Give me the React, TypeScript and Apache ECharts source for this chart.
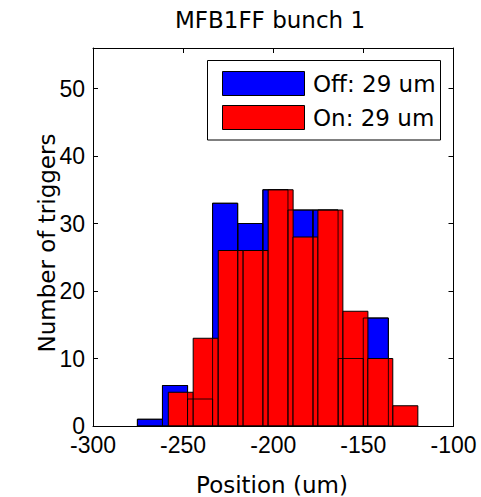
import React, { useEffect, useRef } from "react";
import * as echarts from "echarts";

const TITLE = "MFB1FF bunch 1";
const X_NAME = "Position (um)";
const Y_NAME = "Number of triggers";
const LEGEND_OFF = "Off: 29 um";
const LEGEND_ON = "On: 29 um";

// Off (blue) histogram: bin centers and counts
const OFF_WIDTH = 13.93;
const offCenters = [-268.4, -254.5, -240.6, -226.7, -212.7, -198.8, -184.9, -171.0, -157.0, -143.1];
const offCounts = [1, 6, 4, 33, 30, 35, 32, 32, 10, 16];

// On (red) histogram: bin centers and counts
const ON_WIDTH = 13.84;
const onCenters = [-251.3, -237.5, -223.6, -209.8, -195.9, -182.1, -168.3, -154.4, -140.6, -126.7];
const onCounts = [5, 13, 26, 26, 35, 28, 32, 17, 10, 3];

const X_MIN = -300;
const X_MAX = -100;
const X_INTERVAL = 50;
const Y_MIN = 0;
const Y_MAX = 56;
const Y_INTERVAL = 10;

const TEXT_FONT = "DejaVu Sans";
const TICK_FONT = "Liberation Sans";

function makeRender(width: number, fill: string, stroke: string) {
  return (params: any, api: any) => {
    const c = api.value(0);
    const h = api.value(1);
    const p0 = api.coord([c - width / 2, h]);
    const p1 = api.coord([c + width / 2, 0]);
    return {
      type: "rect",
      shape: { x: p0[0], y: p0[1], width: p1[0] - p0[0], height: p1[1] - p0[1] },
      style: { fill, stroke, lineWidth: 1 },
    };
  };
}

export default function App() {
  const ref = useRef<HTMLDivElement>(null);
  useEffect(() => {
    if (!ref.current) return;
    const chart = echarts.init(ref.current, undefined, { renderer: "svg" });
    const offData = offCenters.map((c, i) => [c, offCounts[i]]);
    const onData = onCenters.map((c, i) => [c, onCounts[i]]);
    const grid = { left: 93, top: 48, width: 360.5, height: 378 };
    chart.setOption({
      animation: false,
      backgroundColor: "#ffffff",
      grid,
      xAxis: [
        {
          type: "value",
          min: X_MIN,
          max: X_MAX,
          interval: X_INTERVAL,
          position: "bottom",
          axisLine: { show: true, onZero: false, lineStyle: { color: "#000", width: 1 } },
          axisTick: { show: true, inside: true, length: 5, lineStyle: { color: "#000" } },
          axisLabel: { color: "#000", fontFamily: TICK_FONT, fontSize: 23, lineHeight: 17, margin: 10 },
          splitLine: { show: false },
        },
        {
          type: "value",
          min: X_MIN,
          max: X_MAX,
          interval: X_INTERVAL,
          position: "top",
          axisLine: { show: true, onZero: false, lineStyle: { color: "#000", width: 1 } },
          axisTick: { show: true, inside: true, length: 5, lineStyle: { color: "#000" } },
          axisLabel: { show: false },
          splitLine: { show: false },
        },
      ],
      yAxis: [
        {
          type: "value",
          min: Y_MIN,
          max: Y_MAX,
          interval: Y_INTERVAL,
          position: "left",
          axisLine: { show: true, onZero: false, lineStyle: { color: "#000", width: 1 } },
          axisTick: { show: true, inside: true, length: 5, lineStyle: { color: "#000" } },
          axisLabel: { color: "#000", fontFamily: TICK_FONT, fontSize: 23, lineHeight: 17, margin: 8, showMaxLabel: false },
          splitLine: { show: false },
        },
        {
          type: "value",
          min: Y_MIN,
          max: Y_MAX,
          interval: Y_INTERVAL,
          position: "right",
          axisLine: { show: true, onZero: false, lineStyle: { color: "#000", width: 1 } },
          axisTick: { show: true, inside: true, length: 5, lineStyle: { color: "#000" } },
          axisLabel: { show: false },
          splitLine: { show: false },
        },
      ],
      series: [
        {
          type: "custom",
          name: "Off",
          xAxisIndex: 0,
          yAxisIndex: 0,
          renderItem: makeRender(OFF_WIDTH, "#0000ff", "#000"),
          data: offData,
          z: 2,
        },
        {
          type: "custom",
          name: "On",
          xAxisIndex: 0,
          yAxisIndex: 0,
          renderItem: makeRender(ON_WIDTH, "#ff0000", "#000"),
          data: onData,
          z: 3,
        },
        {
          type: "custom",
          name: "Off edges",
          xAxisIndex: 0,
          yAxisIndex: 0,
          renderItem: makeRender(OFF_WIDTH, "none", "rgba(0,0,0,0.85)"),
          data: offData,
          z: 4,
          silent: true,
        },
      ],
      graphic: [
        {
          type: "text",
          x: 270,
          y: 20,
          style: {
            text: TITLE,
            fill: "#000",
            font: `23px "${TEXT_FONT}"`,
            textAlign: "center",
            textVerticalAlign: "middle",
          },
        },
        {
          type: "text",
          x: 272,
          y: 485,
          style: {
            text: X_NAME,
            fill: "#000",
            font: `23px "${TEXT_FONT}"`,
            textAlign: "center",
            textVerticalAlign: "middle",
          },
        },
        {
          type: "text",
          x: 47,
          y: 243,
          rotation: Math.PI / 2,
          style: {
            text: Y_NAME,
            fill: "#000",
            font: `23px "${TEXT_FONT}"`,
            textAlign: "center",
            textVerticalAlign: "middle",
          },
        },
        {
          type: "group",
          z: 100,
          children: [
            {
              type: "rect",
              shape: { x: 207.5, y: 60.5, width: 233, height: 79.5 },
              style: { fill: "#fff", stroke: "#000", lineWidth: 1 },
            },
            {
              type: "rect",
              shape: { x: 222.5, y: 71.5, width: 82, height: 24 },
              style: { fill: "#0000ff", stroke: "#000", lineWidth: 1 },
            },
            {
              type: "rect",
              shape: { x: 222.5, y: 105.5, width: 82, height: 24 },
              style: { fill: "#ff0000", stroke: "#000", lineWidth: 1 },
            },
            {
              type: "text",
              x: 313,
              y: 84,
              style: {
                text: LEGEND_OFF,
                fill: "#000",
                font: `23px "${TEXT_FONT}"`,
                textAlign: "left",
                textVerticalAlign: "middle",
              },
            },
            {
              type: "text",
              x: 313,
              y: 118,
              style: {
                text: LEGEND_ON,
                fill: "#000",
                font: `23px "${TEXT_FONT}"`,
                textAlign: "left",
                textVerticalAlign: "middle",
              },
            },
          ],
        },
      ],
    });
    return () => chart.dispose();
  }, []);
  return (
    <div
      ref={ref}
      style={{ position: "absolute", left: 0, top: 0, width: 481, height: 497 }}
    />
  );
}
